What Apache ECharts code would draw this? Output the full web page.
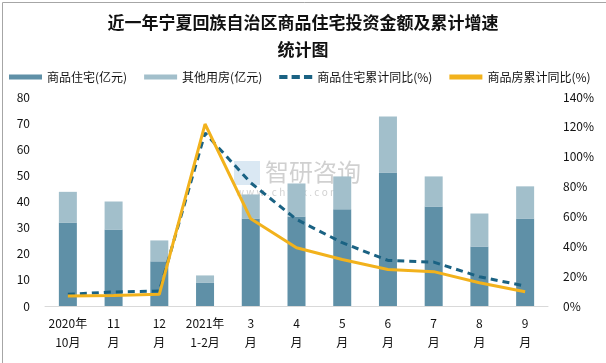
<!DOCTYPE html>
<html><head><meta charset="utf-8">
<script src="https://cdn.jsdelivr.net/npm/echarts@6/dist/echarts.min.js"></script>
<style>html,body{margin:0;padding:0;background:#fff}#c{width:606px;height:363px}</style>
</head><body><div id="c"></div>
<script>
const categories = ['2020年\n10月','11\n月','12\n月','2021年\n1-2月','3\n月','4\n月','5\n月','6\n月','7\n月','8\n月','9\n月'];
const residential = [32.0, 29.3, 17.1, 9.0, 33.5, 34.3, 37.0, 51.1, 38.1, 22.8, 33.5];
const otherUse = [11.7, 10.7, 8.0, 2.7, 9.2, 12.6, 12.6, 21.4, 11.5, 12.6, 12.3];
const residentialYoY = [7.8, 9.4, 10.0, 115.9, 82.5, 58.0, 42.4, 30.5, 29.4, 19.6, 13.4];
const housingYoY = [6.7, 7.1, 7.8, 121.9, 58.4, 39.0, 31.2, 24.5, 23.0, 15.6, 9.6];
const leftTicks = {min:0, max:80, interval:10};
const rightTicks = {min:0, max:140, interval:20};

const chart = echarts.init(document.getElementById('c'), null, {renderer:'canvas'});
const font = '"Noto Sans CJK SC", "Microsoft YaHei", sans-serif';
chart.setOption({
  animation:false,
  backgroundColor:'#fff',
  title:{
    text:'近一年宁夏回族自治区商品住宅投资金额及累计增速\n统计图',
    left:'center', top:4,
    textStyle:{fontFamily:font, fontSize:17, fontWeight:'bold', color:'#111', lineHeight:27}
  },
  legend:{
    top:66, left:4, width:602, itemGap:17, itemWidth:33, itemHeight:5,
    textStyle:{fontFamily:font, fontSize:12, color:'#111'},
    data:[
      {name:'商品住宅(亿元)', icon:'rect'},
      {name:'其他用房(亿元)', icon:'rect'},
      {name:'商品住宅累计同比(%)', icon:'path://M0,0H8V4H0Z M12,0H20V4H12Z M24,0H32V4H24Z'},
      {name:'商品房累计同比(%)', icon:'rect'}
    ]
  },
  grid:{left:45, right:58, top:97, bottom:57},
  xAxis:{
    type:'category', data:categories,
    axisLine:{lineStyle:{color:'#d9d9d9', width:1}},
    axisTick:{show:false},
    axisLabel:{fontFamily:font, fontSize:12, color:'#111', lineHeight:19, margin:8, interval:0}
  },
  yAxis:[
    {type:'value', min:leftTicks.min, max:leftTicks.max, interval:leftTicks.interval,
     axisLine:{show:false}, axisTick:{show:false}, splitLine:{show:false},
     axisLabel:{fontFamily:font, fontSize:12, color:'#111', margin:15}},
    {type:'value', min:rightTicks.min, max:rightTicks.max, interval:rightTicks.interval,
     axisLine:{show:false}, axisTick:{show:false}, splitLine:{show:false},
     axisLabel:{fontFamily:font, fontSize:12, color:'#111', margin:15, formatter:'{value}%'}}
  ],
  graphic:[
    {type:'rect', left:0, top:0, shape:{x:0.5,y:0.5,width:605,height:362}, style:{fill:'none', stroke:'#a6a6a6', lineWidth:1}, silent:true, z:100},
    {type:'text', left:265, top:160, style:{text:'智研咨询', font:'24px '+font, fill:'rgba(150,150,150,0.45)'}, z:0},
    {type:'text', left:236, top:187, style:{text:'w w w . c h y x x . c o m', font:'10px '+font, fill:'rgba(150,150,150,0.45)'}, z:0},
    {type:'rect', left:234, top:161, shape:{width:26,height:24}, style:{fill:'rgba(150,190,220,0.35)'}, z:0}
  ],
  series:[
    {name:'商品住宅(亿元)', type:'bar', stack:'a', data:residential, barWidth:18, itemStyle:{color:'#5f90a7'}},
    {name:'其他用房(亿元)', type:'bar', stack:'a', data:otherUse, barWidth:18, itemStyle:{color:'#a2bfcb'}},
    {name:'商品住宅累计同比(%)', type:'line', yAxisIndex:1, data:residentialYoY, symbol:'none',
     lineStyle:{color:'#1a6283', width:3, type:[7,5]}, itemStyle:{color:'#1a6283'}, z:3},
    {name:'商品房累计同比(%)', type:'line', yAxisIndex:1, data:housingYoY, symbol:'none',
     lineStyle:{color:'#f2b21c', width:3}, itemStyle:{color:'#f2b21c'}, z:4}
  ]
});
</script></body></html>
